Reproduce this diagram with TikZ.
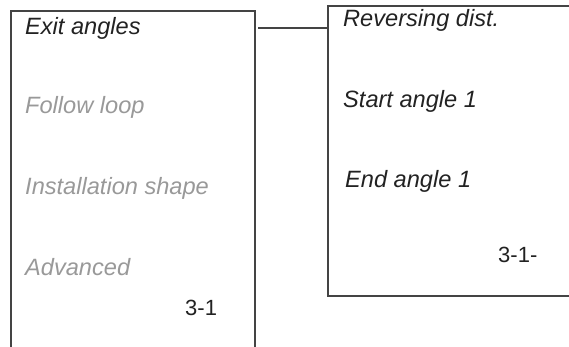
\documentclass[tikz,border=0pt]{standalone}
\usepackage{fontspec}
\setmainfont{Liberation Sans}
\definecolor{linec}{HTML}{444444}
\definecolor{dimtext}{HTML}{999999}
\definecolor{maintext}{HTML}{222222}
\begin{document}
\begin{tikzpicture}[x=1pt,y=-1pt,
  frame/.style={draw=linec,line width=1.2pt},
  item/.style={anchor=base west,inner sep=0pt,font=\fontsize{23.6}{28}\selectfont\itshape,text=maintext},
  dimitem/.style={item,text=dimtext},
  code/.style={anchor=base west,inner sep=0pt,font=\fontsize{22}{26}\selectfont,text=maintext}]
\useasboundingbox (0,0) rectangle (569,347);
% left box
\coordinate (lbl) at (11,347);
\coordinate (ltl) at (11,11);
\coordinate (ltr) at (255,11);
\coordinate (lbr) at (255,347);
\draw[frame] (lbl) -- (ltl) -- (ltr) -- (lbr);
% right box
\coordinate (rtr) at (569,6);
\coordinate (rtl) at (328,6);
\coordinate (rbl) at (328,296);
\coordinate (rbr) at (569,296);
\draw[frame] (rtr) -- (rtl) -- (rbl) -- (rbr);
% connector
\coordinate (c1) at (258,28);
\coordinate (c2) at (328,28);
\draw[frame] (c1) -- (c2);
% left texts
\node[item] (t1) at (25,35) {Exit angles};
\node[dimitem] (t2) at (25,114) {Follow loop};
\node[dimitem] (t3) at (25,195) {Installation shape};
\node[dimitem] (t4) at (25,275) {Advanced};
\node[code] (t5) at (185,315) {3-1};
% right texts
\node[item] (r1) at (343,27) {Reversing dist.};
\node[item] (r2) at (343,108) {Start angle 1};
\node[item] (r3) at (345,188) {End angle 1};
\node[code] (r4) at (498,262) {3-1-};
\end{tikzpicture}
\end{document}
